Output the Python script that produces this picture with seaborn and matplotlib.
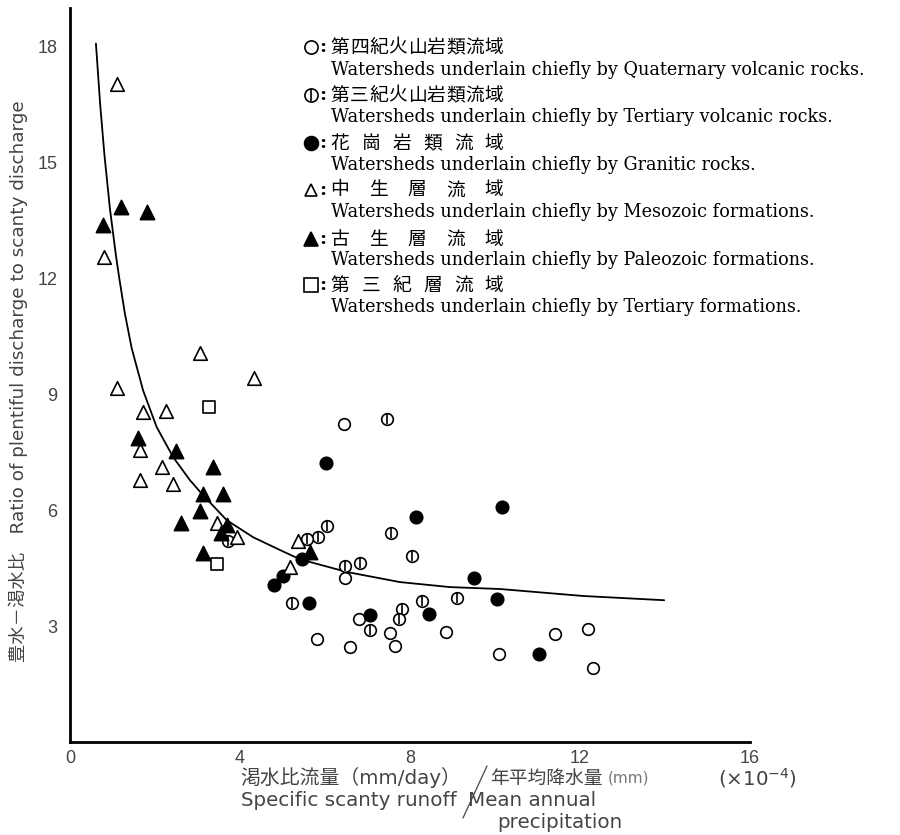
import numpy as np
import pandas as pd
import matplotlib
matplotlib.use('Agg')
import matplotlib.pyplot as plt
import seaborn as sns
from matplotlib.lines import Line2D

sns.set_theme(style='white')
plt.rcParams['font.family'] = ['DejaVu Sans', 'Noto Sans CJK JP']

# ---------------- data ----------------
# Quaternary volcanic rocks (open circles)
quat_x = [6.45, 6.47, 6.80, 5.81, 6.59, 7.53, 7.65, 8.85, 10.09, 11.41, 12.19, 12.31]
quat_y = [8.22, 4.24, 3.18, 2.66, 2.46, 2.82, 2.48, 2.84, 2.28, 2.79, 2.92, 1.91]
# Tertiary volcanic rocks (circle with vertical bar)
tvol_x = [3.72, 5.22, 7.46, 6.05, 5.84, 5.58, 7.55, 8.05, 6.82, 6.47, 8.28, 9.10, 7.81, 7.74, 7.06]
tvol_y = [5.20, 3.59, 8.35, 5.59, 5.30, 5.25, 5.40, 4.81, 4.63, 4.55, 3.65, 3.72, 3.44, 3.18, 2.90]
# Granitic rocks (filled circles)
gran_x = [4.80, 5.01, 6.02, 5.46, 5.62, 8.14, 10.16, 9.51, 10.05, 7.06, 8.45, 11.04]
gran_y = [4.06, 4.30, 7.21, 4.73, 3.59, 5.82, 6.08, 4.24, 3.70, 3.28, 3.31, 2.28]
# Mesozoic formations (open triangles)
meso_x = [1.10, 0.80, 1.10, 3.06, 4.34, 1.71, 2.25, 1.65, 2.17, 1.65, 2.42, 3.45, 3.92, 5.18, 5.37]
meso_y = [17.04, 12.55, 9.16, 10.06, 9.43, 8.54, 8.56, 7.57, 7.11, 6.78, 6.67, 5.66, 5.30, 4.53, 5.20]
# Paleozoic formations (filled triangles)
pale_x = [0.77, 1.20, 1.80, 1.61, 2.49, 3.37, 3.12, 3.59, 3.06, 2.61, 3.69, 3.55, 3.12, 5.65]
pale_y = [13.37, 13.84, 13.71, 7.88, 7.53, 7.11, 6.41, 6.41, 5.98, 5.66, 5.61, 5.40, 4.88, 4.91]
# Tertiary formations (open squares)
tfor_x = [3.27, 3.47]
tfor_y = [8.67, 4.60]
# fitted curve
curve_x = [0.61, 0.71, 0.81, 0.94, 1.08, 1.16, 1.29, 1.45, 1.72, 2.04, 2.43, 2.82, 3.13,
           3.69, 4.31, 4.94, 5.41, 6.52, 7.76, 8.94, 10.12, 12.07, 13.98]
curve_y = [18.08, 16.5, 15.2, 13.8, 12.6, 12.0, 11.1, 10.2, 9.1, 8.15, 7.37, 6.78, 6.39,
           5.74, 5.30, 4.97, 4.73, 4.40, 4.14, 4.01, 3.96, 3.78, 3.67]

xticks = [0, 2, 4, 6, 8, 10, 12, 14, 16]
xticklabels = ['0', '', '4', '', '8', '', '12', '', '16']
yticks = [3, 6, 9, 12, 15, 18]
yticklabels = ['3', '6', '9', '12', '15', '18']

leg_jp = ['第四紀火山岩類流域', '第三紀火山岩類流域', '花崗岩類流域',
          '中生層流域', '古生層流域', '第三紀層流域']
leg_en = ['Watersheds underlain chiefly by Quaternary volcanic rocks.',
          'Watersheds underlain chiefly by Tertiary volcanic rocks.',
          'Watersheds underlain chiefly by Granitic rocks.',
          'Watersheds underlain chiefly by Mesozoic formations.',
          'Watersheds underlain chiefly by Paleozoic formations.',
          'Watersheds underlain chiefly by Tertiary formations.']

ylabel_text = '豊水－渇水比　Ratio of plentiful discharge to scanty discharge'

# ---------------- figure ----------------
W, H = 900, 835
fig = plt.figure(figsize=(9, 8.35), dpi=100)
fig.patch.set_facecolor('white')
ax = fig.add_axes([70 / W, 1 - 742 / H, 680 / W, (742 - 8) / H])
ax.set_facecolor('white')

def fx(px):
    return px / W

def fy(py):
    return 1 - py / H

def scat(xs, ys, marker, s, fc, ec='black', lw=1.2, z=3):
    sns.scatterplot(x=xs, y=ys, marker=marker, s=s, color=fc, edgecolor=ec,
                    linewidth=lw, ax=ax, zorder=z, legend=False)

sns.lineplot(x=curve_x, y=curve_y, sort=False, estimator=None, color='black',
             linewidth=1.3, ax=ax, zorder=2)

scat(quat_x, quat_y, 'o', 70, 'white')
scat(tvol_x, tvol_y, 'o', 70, 'white')
scat(tvol_x, tvol_y, '|', 55, 'black', ec='black', lw=1.2, z=4)
scat(gran_x, gran_y, 'o', 80, 'black')
scat(meso_x, meso_y, '^', 95, 'white')
scat(pale_x, pale_y, '^', 105, 'black')
scat(tfor_x, tfor_y, 's', 65, 'white')

ax.set_xlim(0, 16)
ax.set_ylim(0, 19)
ax.set_xticks(xticks)
ax.set_xticklabels(xticklabels)
ax.set_yticks(yticks)
ax.set_yticklabels(yticklabels)
ax.set_xlabel('')
ax.set_ylabel('')
for side in ['top', 'right']:
    ax.spines[side].set_visible(False)
for side in ['left', 'bottom']:
    ax.spines[side].set_linewidth(2.0)
    ax.spines[side].set_color('black')
ax.tick_params(axis='x', direction='in', length=6, width=1.5, colors='black',
               labelcolor='#444444', labelsize=13, pad=6)
ax.tick_params(axis='y', direction='in', length=4, width=1.5, colors='black',
               labelcolor='#444444', labelsize=13, pad=9)
for lab in ax.get_xticklabels() + ax.get_yticklabels():
    lab.set_family('Liberation Sans')

# ---------------- legend block (top right) ----------------
jp_rows = [47, 95, 143, 190, 239, 285]
en_rows = [70, 117, 165, 212, 260, 307]
mk_x = 311
leg_style = [
    dict(marker='o', ms=9.5, mfc='white', mew=1.2),
    dict(marker='o', ms=9.5, mfc='white', mew=1.2),
    dict(marker='o', ms=10, mfc='black', mew=1.2),
    dict(marker='^', ms=9, mfc='white', mew=1.2),
    dict(marker='^', ms=10.5, mfc='black', mew=1.2),
    dict(marker='s', ms=9.5, mfc='white', mew=1.2),
]
for i, (jp, en) in enumerate(zip(leg_jp, leg_en)):
    yr = jp_rows[i]
    st = leg_style[i]
    fig.add_artist(Line2D([fx(mk_x)], [fy(yr)], transform=fig.transFigure,
                          linestyle='none', marker=st['marker'], markersize=st['ms'],
                          markerfacecolor=st['mfc'], markeredgecolor='black',
                          markeredgewidth=st['mew']))
    if i == 1:
        fig.add_artist(Line2D([fx(mk_x)], [fy(yr)], transform=fig.transFigure,
                              linestyle='none', marker='|', markersize=8,
                              markeredgecolor='black', markeredgewidth=1.2))
    fig.text(fx(323), fy(yr), ':', ha='center', va='center', fontsize=14,
             family='DejaVu Serif', fontweight='bold', color='black')
    chars = list(jp)
    c0, c1 = 340, 494
    xs = np.linspace(c0, c1, len(chars))
    for ch, xc in zip(chars, xs):
        fig.text(fx(xc), fy(yr), ch, ha='center', va='center', fontsize=13.5,
                 family='Noto Sans CJK JP', color='black')
    fig.text(fx(331), fy(en_rows[i]), en, ha='left', va='center', fontsize=12.7,
             family='DejaVu Serif', color='black')

# ---------------- axis labels ----------------
fig.text(fx(18), fy(662), ylabel_text, rotation=90, ha='center', va='bottom',
         fontsize=13.2, color='#444444', family=['DejaVu Sans', 'Noto Sans CJK JP'])

lab_kw = dict(ha='left', va='center', fontsize=14.3, color='#444444',
              family=['DejaVu Sans', 'Noto Sans CJK JP'])
fig.text(fx(240), fy(778), '渇水比流量（mm/day）', **lab_kw)
fig.text(fx(490), fy(778), '年平均降水量', **{**lab_kw, 'fontsize': 13.5})
fig.text(fx(608), fy(778), '(mm)', **{**lab_kw, 'fontsize': 11, 'color': '#777777'})
fig.text(fx(241), fy(800), 'Specific scanty runoff', **lab_kw)
fig.text(fx(468), fy(800), 'Mean annual', **lab_kw)
fig.text(fx(497), fy(823), 'precipitation', **lab_kw)
fig.text(fx(718), fy(778), '(×10$^{-4}$)', **lab_kw)
fig.add_artist(Line2D([fx(487), fx(463)], [fy(766), fy(818)], transform=fig.transFigure,
                      color='#444444', linewidth=0.9))

fig.savefig('out.png', dpi=100, facecolor='white')
